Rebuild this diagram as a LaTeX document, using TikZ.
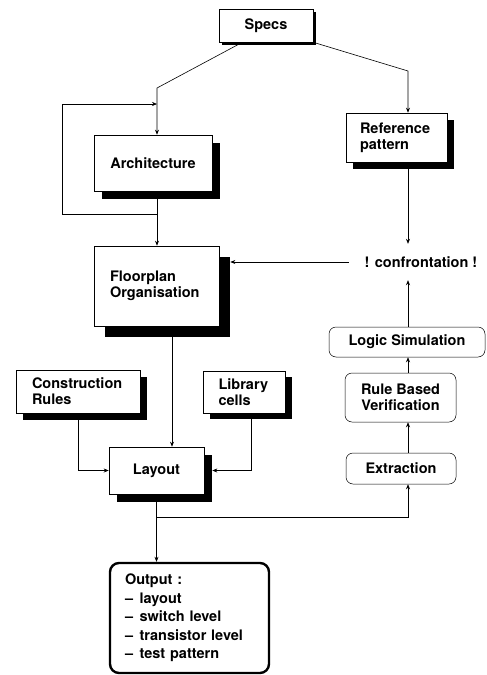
\documentclass[tikz,border=0pt]{standalone}
\usepackage{fontspec}
\setmainfont{TeX Gyre Heros}
\usetikzlibrary{arrows.meta, positioning, calc, shadows}
\newcommand{\boxfont}{\bfseries\fontsize{14.5}{16}\selectfont}
\newcommand{\outfont}{\bfseries\fontsize{14.5}{18.5}\selectfont}

\begin{document}
\begin{tikzpicture}[x=1pt, y=-1pt,
    box/.style={draw, line width=0.6pt, fill=white, inner sep=0pt, font=\boxfont},
    shade/.style={drop shadow={shadow xshift=#1pt, shadow yshift=-#1pt, fill=black, opacity=1}},
    tool/.style={draw, line width=0.5pt, rounded corners=7pt, inner sep=0pt, font=\boxfont, align=center},
    flow/.style={-{Stealth[length=5pt, width=4pt]}, line width=0.6pt}]
    \useasboundingbox (0,0) rectangle (487,675);
    % Design boxes (with shadow)
    \node[box, shade=3, minimum width=94pt, minimum height=33pt] (specs) at (266,25.5) {Specs};
    \node[box, shade=8, minimum width=118pt, minimum height=56pt] (arch) at (153,163) {Architecture};
    \node[box, shade=7, minimum height=49pt, text width=73pt, inner xsep=14pt, align=left] (ref) at (396.5,137.5) {Reference\\pattern};
    \node[box, shade=11, minimum height=80pt, text width=93pt, inner xsep=16pt, align=left] (plan) at (156.5,286) {Floorplan\\Organisation};
    \node[box, shade=7, minimum height=43pt, text width=92pt, inner xsep=16pt, align=left] (cons) at (78,391.5) {Construction\\Rules};
    \node[box, shade=6, minimum height=42pt, text width=52pt, inner xsep=15pt, align=left] (lib) at (244.5,392) {Library\\cells};
    \node[box, shade=8, minimum width=95pt, minimum height=47pt] (layout) at (156.5,470.5) {Layout};
    % Verification tools
    \node[tool, minimum width=156pt, minimum height=30pt] (logic) at (407,342) {Logic Simulation};
    \node[tool, minimum width=111pt, minimum height=49pt] (rule) at (400.5,397.5) {Rule Based\\Verification};
    \node[tool, minimum width=110pt, minimum height=31pt] (ext) at (401,468.5) {Extraction};
    \node[font=\boxfont, inner sep=0pt, minimum height=36pt] (conf) at (421,262) {! confrontation !};
    % Output
    \node[draw, line width=2.4pt, rounded corners=9pt, text width=129pt, inner xsep=15pt,
          minimum height=110pt, align=left, font=\outfont] (out) at (189.5,618)
        {Output :\\
         --\hspace{0.45em}layout\\
         --\hspace{0.45em}switch level\\
         --\hspace{0.45em}transistor level\\
         --\hspace{0.45em}test pattern};
    % Connectors
    \coordinate (split) at (157,88);
    \coordinate (rcol) at (408,71);
    \coordinate (lt) at (62,104);
    \coordinate (lb) at (62,214);
    \coordinate (drop) at (172,0);
    \coordinate (libdrop) at (251,0);
    \coordinate (fork) at (0,517);
    \draw[flow] ($(specs.south west)!0.25!(specs.south east)$) -- (split) -- (split |- arch.north);
    \draw[flow] (specs.south east) -- (rcol) -- (rcol |- ref.north);
    \draw[flow] (split |- arch.south) -- (split |- plan.north);
    \draw[flow] (split |- lb) -- (lb) -- (lt) -- (split |- lt);
    \draw[flow] ([xshift=-16pt]conf.west) -- ([xshift=11pt]plan.east |- conf.west);
    \draw[flow] (ref.south -| rcol) -- (conf.north -| rcol);
    \draw[flow] (logic.north -| rcol) -- (conf.south -| rcol);
    \draw[flow] (rule.north -| rcol) -- (logic.south -| rcol);
    \draw[flow] (ext.north -| rcol) -- (rule.south -| rcol);
    \draw[flow] ([yshift=-11pt]plan.south -| drop) -- (layout.north -| drop);
    \draw[flow] (cons.south) |- (layout.west);
    \draw[flow] (lib.south -| libdrop) |- ([xshift=8pt]layout.east);
    \draw[flow] (layout.south) -- (out.north -| layout.south);
    \draw[flow] (layout.south |- fork) -| (ext.south -| rcol);
\end{tikzpicture}
\end{document}
